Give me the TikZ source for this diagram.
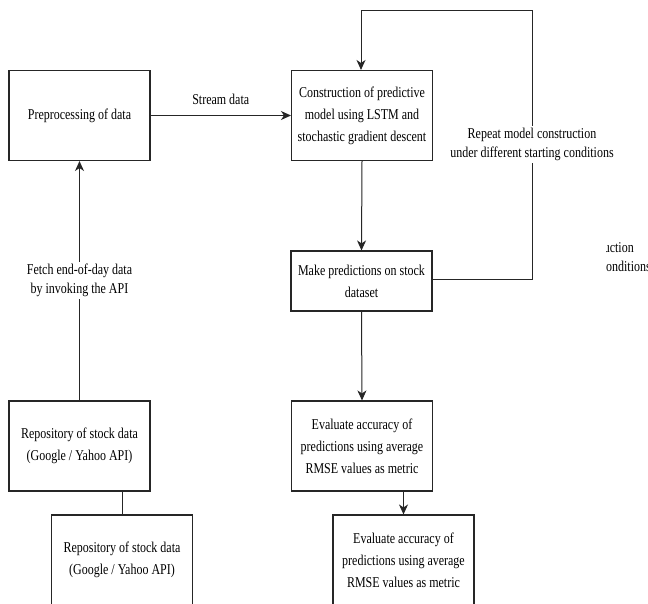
\documentclass[tikz,border=0pt]{standalone}
\usepackage{fontspec}
\setmainfont{Liberation Serif}
\newfontfamily\diafont{Liberation Serif}[FakeStretch=0.8]
\usetikzlibrary{arrows.meta}
\begin{document}
\begin{tikzpicture}[x=1pt,y=-1pt,
  box/.style={draw=black!85,line width=1.1pt,minimum width=141pt,align=center,inner sep=0pt,font=\diafont\fontsize{15}{22}\selectfont},
  tall/.style={box,minimum height=90pt},
  short/.style={box,minimum height=60pt},
  conn/.style={draw=black!85,line width=1pt},
  arr/.style={conn,-{Stealth[length=10pt,width=9pt,inset=3pt]}},
  lbl/.style={fill=white,align=center,inner sep=2pt,font=\diafont\fontsize{15}{19}\selectfont},
  frag/.style={inner sep=0pt,anchor=base east,font=\diafont\fontsize{15}{19}\selectfont}]
\useasboundingbox (0,0) rectangle (648,604);
\fill[white] (0,0) rectangle (648,604);
% nodes
\node[tall] (pre) at (79.5,115.5) {Preprocessing of data};
\node[tall] (con) at (362,115.5) {Construction of predictive\\model using LSTM and\\stochastic gradient descent};
\node[short] (mk) at (361.5,281) {Make predictions on stock\\dataset};
\node[tall] (ev1) at (362,446) {Evaluate accuracy of\\predictions using average\\RMSE values as metric};
\node[tall] (ev2) at (403.5,560) {Evaluate accuracy of\\predictions using average\\RMSE values as metric};
\node[tall] (repo1) at (79.5,446) {Repository of stock data\\(Google / Yahoo API)};
\node[tall] (repo2) at (122,560) {Repository of stock data\\(Google / Yahoo API)};
% loop corners
\coordinate (lr) at (532,279);
\coordinate (ur) at (532,11);
\coordinate (ul) at (361,11);
% connectors
\draw[arr] (pre.east) -- node[lbl,above=8pt,fill=none] (sd) {Stream data} (con.west);
\draw[arr] (con.south) -- (mk.north);
\draw[arr] (mk.south) -- (ev1.north);
\draw[arr] (ev1.south -| ev2.north) -- (ev2.north);
\draw[arr] (repo1.north -| pre.south) -- node[lbl] (fetch) {Fetch end-of-day data\\by invoking the API} (pre.south);
\draw[conn] (repo2.north) -- (repo2.north |- repo1.south);
\draw[arr] (mk.east |- lr) -- (lr) -- (ur) -- (ul) -- (ul |- con.north);
\node[lbl] (rep) at (532,144.5) {Repeat model construction\\under different starting conditions};
% clipped fragment at right edge
\begin{scope}
\clip (606,0) rectangle (648,604);
\node[frag] (frag1) at (634,252) {Repeat model construction};
\node[frag] (frag2) at (651,271) {under different starting conditions};
\end{scope}
\end{tikzpicture}
\end{document}
